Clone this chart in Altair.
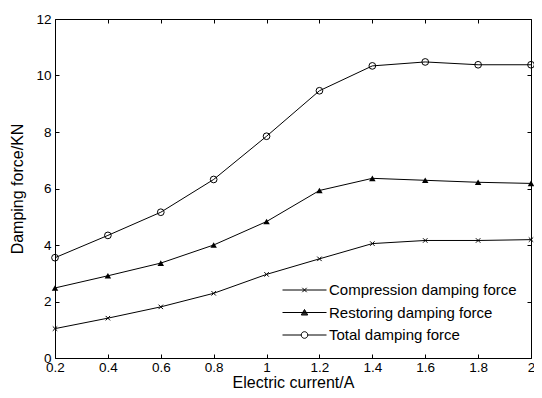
import altair as alt
import pandas as pd

current = [0.2, 0.4, 0.6, 0.8, 1.0, 1.2, 1.4, 1.6, 1.8, 2.0]
compression = [1.04, 1.41, 1.81, 2.29, 2.96, 3.51, 4.05, 4.16, 4.16, 4.19]
restoring = [2.48, 2.91, 3.36, 4.00, 4.83, 5.93, 6.36, 6.29, 6.22, 6.18]
total = [3.55, 4.34, 5.16, 6.32, 7.85, 9.46, 10.34, 10.48, 10.38, 10.38]
series_names = ["Compression damping force", "Restoring damping force", "Total damping force"]
x_ticks = [0.2, 0.4, 0.6, 0.8, 1.0, 1.2, 1.4, 1.6, 1.8, 2.0]
y_ticks = [0, 2, 4, 6, 8, 10, 12]

rows = []
for name, vals in zip(series_names, [compression, restoring, total]):
    for c, v in zip(current, vals):
        rows.append({"current": c, "force": v, "series": name})
df = pd.DataFrame(rows)

FONT = "Liberation Sans"
xs = alt.Scale(domain=[0.2, 2.0], nice=False, zero=False)
ys = alt.Scale(domain=[0, 12], nice=False, zero=True)

common = dict(domain=False, grid=False, ticks=True, tickSize=4, offset=-4,
              tickColor="black", tickWidth=1, labelFont=FONT, labelFontSize=13.5,
              labelColor="black", titleFont=FONT, titleFontSize=16,
              titleFontWeight="normal", titleColor="black")

x_bottom = alt.Axis(orient="bottom", values=x_ticks, format="~g", labelPadding=2,
                    labelFlush=False, labelOverlap=False,
                    titleBaseline="alphabetic", titleY=33, **common)
y_left = alt.Axis(orient="left", values=y_ticks, format="~g", labelPadding=4,
                  labelOverlap=False, titlePadding=10, **common)
x_top = alt.Axis(orient="top", values=x_ticks, labels=False, **common)
y_right = alt.Axis(orient="right", values=y_ticks, labels=False, **common)

base = alt.Chart(df)

lines = base.mark_line(color="black", strokeWidth=1).encode(
    x=alt.X("current:Q", scale=xs, axis=x_bottom, title="Electric current/A"),
    y=alt.Y("force:Q", scale=ys, axis=y_left, title="Damping force/KN"),
    detail="series:N",
)

mirror = base.mark_point(opacity=0).encode(
    x=alt.X("current:Q", scale=xs, axis=x_top, title=None),
    y=alt.Y("force:Q", scale=ys, axis=y_right, title=None),
)

marker_specs = [
    (series_names[0], "M-1,-1L1,1M-1,1L1,-1", False, 20),
    (series_names[1], "triangle-up", True, 42),
    (series_names[2], "circle", False, 45),
]
point_layers = []
for name, shp, filled, size in marker_specs:
    point_layers.append(
        base.transform_filter(alt.datum.series == name)
        .mark_point(shape=shp, filled=filled, size=size, color="black", strokeWidth=1, opacity=1)
        .encode(
            x=alt.X("current:Q", scale=xs, axis=None),
            y=alt.Y("force:Q", scale=ys, axis=None),
        )
    )

# legend glyphs: a line with the marker on it (triangle filled with hatch strokes)
legend_paths = [
    "M-1,0H1M-0.1,-0.1L0.1,0.1M-0.1,0.1L0.1,-0.1",
    ("M-1,0H1M0,-0.136L0.145,0.114L-0.145,0.114Z"
     "M-0.021,-0.1H0.021M-0.047,-0.055H0.047M-0.073,-0.01H0.073"
     "M-0.098,0.035H0.098M-0.124,0.08H0.124"),
    "M-1,0H-0.15M0.15,0H1M-0.15,0A0.15,0.15,0,1,0,0.15,0A0.15,0.15,0,1,0,-0.15,0Z",
]

leg = alt.Legend(orient="none", legendX=227, legendY=263, title=None,
                 symbolSize=1936, symbolStrokeWidth=1,
                 labelFont=FONT, labelFontSize=15, labelColor="black", labelLimit=400,
                 labelOffset=2, rowPadding=6.5, clipHeight=16, padding=0)

legend_layer = base.transform_filter("false").mark_point(
    filled=False, color="black", strokeWidth=1, opacity=1
).encode(
    x=alt.X("current:Q", scale=xs, axis=None),
    y=alt.Y("force:Q", scale=ys, axis=None),
    shape=alt.Shape("series:N", scale=alt.Scale(domain=series_names, range=legend_paths), legend=leg),
)

chart = alt.layer(lines, mirror, *point_layers, legend_layer).resolve_axis(
    x="independent", y="independent"
).properties(
    width=476, height=339,
    autosize=alt.AutoSizeParams(type="none"),
    padding={"left": 47, "top": 11, "right": 3, "bottom": 32},
    background="white",
).configure_view(stroke="black", strokeWidth=1)

chart.save("out.html", embed_options={"renderer": "svg", "actions": False})
